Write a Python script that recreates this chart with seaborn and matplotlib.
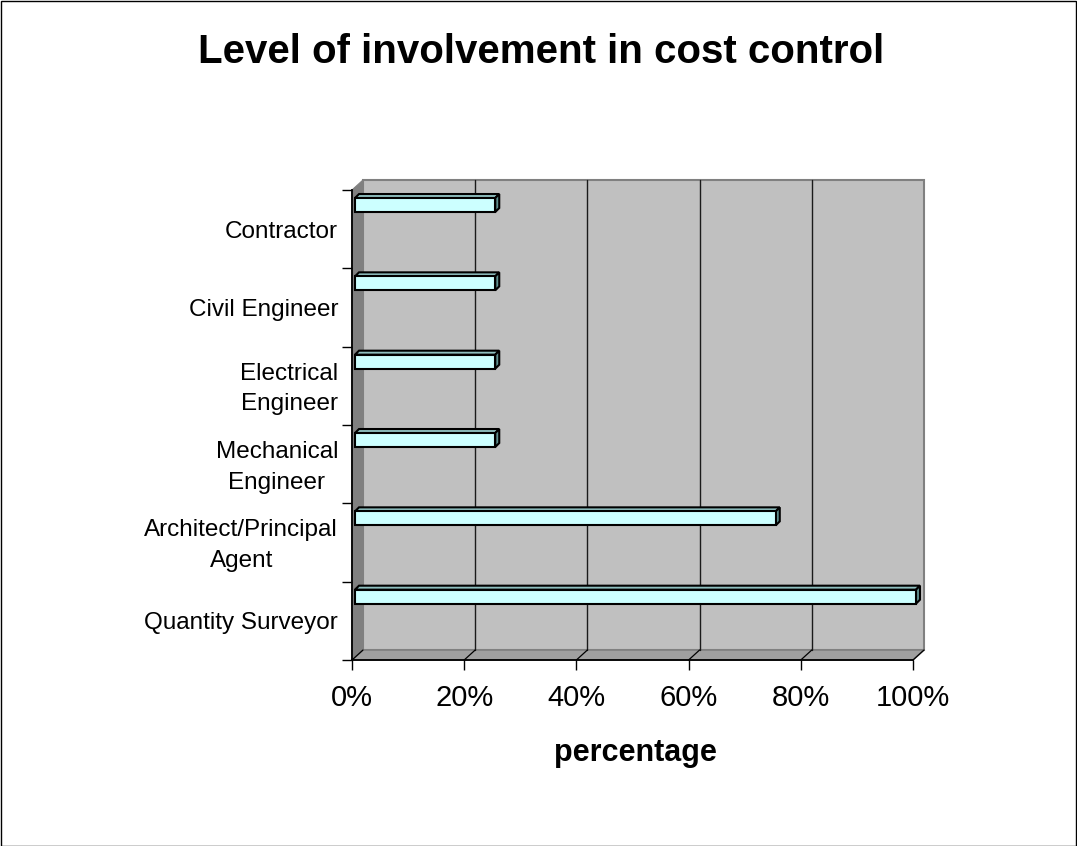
import matplotlib
matplotlib.use("Agg")
import matplotlib.pyplot as plt
import matplotlib.transforms as mtransforms
from matplotlib.patches import Polygon, Rectangle
from matplotlib.ticker import FixedLocator, NullFormatter
import pandas as pd
import seaborn as sns

# ---- data -------------------------------------------------------------
roles = [
    "Contractor",
    "Civil Engineer",
    "Electrical\nEngineer",
    "Mechanical\nEngineer",
    "Architect/Principal\nAgent",
    "Quantity Surveyor",
]
involvement = [0.25, 0.25, 0.25, 0.25, 0.75, 1.00]
x_ticks = [0.0, 0.2, 0.4, 0.6, 0.8, 1.0]
x_tick_labels = ["0%", "20%", "40%", "60%", "80%", "100%"]

title = "Level of involvement in cost control"
x_label = "percentage"

# ---- style ------------------------------------------------------------
sns.set_style("white")
plt.rcParams["font.family"] = ["Liberation Sans", "DejaVu Sans"]
for key in ("text.color", "axes.labelcolor", "xtick.color", "ytick.color"):
    plt.rcParams[key] = "black"

W, H, DPI = 1077, 846, 100
fig = plt.figure(figsize=(W / DPI, H / DPI), dpi=DPI)
fig.patch.set_facecolor("white")

# front plane of the plot box, in pixels
left_px, right_px, top_px, bottom_px = 352, 913, 190, 660
ax = fig.add_axes([left_px / W, 1 - bottom_px / H,
                   (right_px - left_px) / W, (bottom_px - top_px) / H])
ax.set_facecolor("none")

n = len(roles)
band_top = -0.23            # top of the first category band (data units)
ylim = (band_top + n, band_top)
xlim = (0.0, 1.0)

# pixel -> data scale factors
sx = (right_px - left_px) / (xlim[1] - xlim[0])
sy = (bottom_px - top_px) / n


def P(x, y, dx=0.0, dy=0.0):
    """Point in data units, pushed back into depth by (dx, dy) pixels."""
    return (x + dx / sx, y - dy / sy)


WALL_DX, WALL_DY = 11, 10
BAR_F, BAR_B = 3, 7          # bar front / back depth in pixels
bar_h = 14 / sy

df = pd.DataFrame({"role": roles, "share": involvement})
sns.barplot(data=df, x="share", y="role", orient="h", ax=ax,
            color="#CCFFFF", saturation=1, edgecolor="black",
            linewidth=1.5, width=bar_h, zorder=3)

ax.set_xlim(*xlim)
ax.set_ylim(*ylim)

# ---- 3-D walls --------------------------------------------------------
y_top, y_bot = ylim[1], ylim[0]
back_wall = Polygon([P(0, y_top, WALL_DX, WALL_DY), P(1, y_top, WALL_DX, WALL_DY),
                     P(1, y_bot, WALL_DX, WALL_DY), P(0, y_bot, WALL_DX, WALL_DY)],
                    closed=True, facecolor="#C0C0C0", edgecolor="#808080",
                    linewidth=1.5, zorder=0.1, clip_on=False)
side_wall = Polygon([P(0, y_top), P(0, y_top, WALL_DX, WALL_DY),
                     P(0, y_bot, WALL_DX, WALL_DY), P(0, y_bot)],
                    closed=True, facecolor="#808080", edgecolor="#808080",
                    linewidth=0.8, zorder=0.2, clip_on=False)
floor = Polygon([P(0, y_bot), P(1, y_bot),
                 P(1, y_bot, WALL_DX, WALL_DY), P(0, y_bot, WALL_DX, WALL_DY)],
                closed=True, facecolor="#A0A0A0", edgecolor="#808080",
                linewidth=1.2, zorder=0.2, clip_on=False)
bar_artists = list(ax.patches)
for p in (back_wall, side_wall, floor):
    ax.add_patch(p)

# gridlines on the back wall and their traces on the floor
for xv in x_ticks[1:-1]:
    x0, y0 = P(xv, y_top, WALL_DX, WALL_DY)
    x1, y1 = P(xv, y_bot, WALL_DX, WALL_DY)
    ax.plot([x0, x1], [y0, y1], color="#1a1a1a", linewidth=1.0,
            zorder=0.5, clip_on=False)
for xv in x_ticks:
    a = P(xv, y_bot)
    b = P(xv, y_bot, WALL_DX, WALL_DY)
    ax.plot([a[0], b[0]], [a[1], b[1]], color="black", linewidth=0.9,
            zorder=0.6, clip_on=False)

# ---- 3-D bars ---------------------------------------------------------
shift = mtransforms.ScaledTranslation(BAR_F / DPI, BAR_F / DPI, fig.dpi_scale_trans)
for patch in bar_artists:
    x0, y0 = patch.get_x(), patch.get_y()
    w, h = patch.get_width(), patch.get_height()
    patch.set_transform(ax.transData + shift)
    patch.set_clip_on(False)
    yt = min(y0, y0 + h)
    yb = max(y0, y0 + h)
    top_face = Polygon([P(x0, yt, BAR_F, BAR_F), P(x0 + w, yt, BAR_F, BAR_F),
                        P(x0 + w, yt, BAR_B, BAR_B), P(x0, yt, BAR_B, BAR_B)],
                       closed=True, facecolor="#8FC0C0", edgecolor="black",
                       linewidth=1.5, zorder=2.9, clip_on=False)
    end_face = Polygon([P(x0 + w, yt, BAR_F, BAR_F), P(x0 + w, yb, BAR_F, BAR_F),
                        P(x0 + w, yb, BAR_B, BAR_B), P(x0 + w, yt, BAR_B, BAR_B)],
                       closed=True, facecolor="#5F9090", edgecolor="black",
                       linewidth=1.5, zorder=2.9, clip_on=False)
    ax.add_patch(top_face)
    ax.add_patch(end_face)

# ---- axes, ticks, labels ---------------------------------------------
for side in ("top", "right"):
    ax.spines[side].set_visible(False)
for side in ("left", "bottom"):
    ax.spines[side].set_color("black")
    ax.spines[side].set_linewidth(1.3)
    ax.spines[side].set_zorder(4)

ax.set_xticks(x_ticks)
ax.set_xticklabels(x_tick_labels, fontsize=21)
ax.tick_params(axis="x", direction="out", length=7, width=1, color="black",
               pad=10, bottom=True)

# category labels sit in the middle of each band below its bar
label_pos = [i + (0.225 if "\n" in r else 0.268) for i, r in enumerate(roles)]
ax.yaxis.set_major_locator(FixedLocator(label_pos))
ax.set_yticklabels(roles, fontsize=17.5, ha="right", multialignment="center",
                   linespacing=1.5)
ax.yaxis.set_minor_locator(FixedLocator([band_top + i for i in range(n + 1)]))
ax.yaxis.set_minor_formatter(NullFormatter())
ax.tick_params(axis="y", which="major", length=0, pad=10, left=True)
ax.tick_params(axis="y", which="minor", direction="out", length=7, width=1,
               color="black", left=True)

ax.set_ylabel("")
ax.set_xlabel(x_label, fontsize=22, fontweight="bold", va="center")
ax.xaxis.set_label_coords(0.505, -(753 - bottom_px) / (bottom_px - top_px))

fig.text(541 / W, 1 - 52 / H, title, fontsize=29, fontweight="bold",
         ha="center", va="center")

# thin frame around the whole chart area
fig.patches.append(Rectangle((0.5 / W, 0.5 / H), 1 - 1.5 / W, 1 - 1.5 / H,
                             transform=fig.transFigure, fill=False,
                             edgecolor="black", linewidth=1.0))

fig.savefig("out.png", dpi=DPI, facecolor="white")
